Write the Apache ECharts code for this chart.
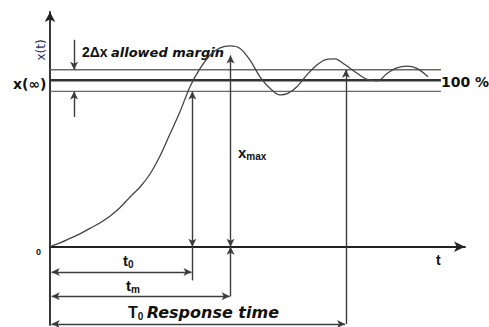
<!DOCTYPE html>
<html><head><meta charset="utf-8">
<script src="https://cdn.jsdelivr.net/npm/echarts@6/dist/echarts.min.js"></script>
<style>html,body{margin:0;padding:0;background:#fff}#c{width:489px;height:327px}</style>
</head><body><div id="c"></div>
<script>
// step response curve (time in arbitrary units, response in % of final value)
const curveTime  = [0, 2.4, 4.8, 7.2, 9.6, 12.0, 14.5, 16.9, 19.3, 21.7, 24.1, 26.5, 28.9, 31.3, 33.7, 36.1, 38.6, 41.0, 43.4, 45.8, 48.2, 50.6, 53.0, 55.4, 57.3, 59.5, 61.9, 64.3, 66.7, 68.7, 70.6, 74.0, 76.4, 79.0, 81.2, 83.6, 86.0, 88.4, 91.1];
const curveValue = [0, 2.3, 5.0, 7.7, 11.0, 14.3, 18.5, 23.6, 29.9, 35.9, 43.7, 54.5, 67.7, 80.9, 96.0, 106.8, 115.2, 119.4, 120.6, 119.1, 112.1, 102.1, 95.2, 91.2, 92.1, 96.1, 103.2, 109.2, 112.6, 112.8, 110.2, 104.2, 100.5, 99.7, 104.1, 107.5, 108.5, 107.1, 102.1];
// tolerance band: upper margin, final value, lower margin
const bandLevels = [106.3, 100, 93.3];
const bandEnd = 94.2;
// characteristic times: t0, tm, T0
const markTimes = [34.3, 43.5, 71.3];
const xMaxLevel = 114.9;
// dimension-arrow levels below the time axis (t0, tm, T0)
const dimLevels = [-15.2, -29.8, -46.4];
const dimExt = [-20.2, -29.8, -46.4];
// 2Δx margin arrow position and outer ends
const marginTime = 5.8;
const marginEnds = [124.3, 78];

const chart = echarts.init(document.getElementById('c'), null, {renderer: 'svg'});
const lineC = '#3c3c3c';
const A = 'arrow', N = 'none';
function seg(p1, p2, s1, s2) {
  return [{coord: p1, symbol: s1}, {coord: p2, symbol: s2}];
}
const [t0, tm, T0] = markTimes;
const marks = [
  seg([marginTime, marginEnds[0]], [marginTime, bandLevels[0]], N, A),
  seg([marginTime, marginEnds[1]], [marginTime, bandLevels[2]], N, A),
  seg([t0, bandLevels[2]], [t0, 0], A, A),
  seg([t0, 0], [t0, dimExt[0]], N, N),
  seg([tm, xMaxLevel], [tm, 0], A, A),
  seg([tm, 0], [tm, dimExt[1]], A, N),
  seg([T0, bandLevels[0]], [T0, dimExt[2]], A, N),
  seg([0.4, dimLevels[0]], [t0 - 0.2, dimLevels[0]], A, A),
  seg([0.4, dimLevels[1]], [tm - 0.2, dimLevels[1]], A, A),
  seg([0.4, dimLevels[2]], [T0 - 0.2, dimLevels[2]], A, A)
];
const bandSeries = bandLevels.map((v, i) => ({
  type: 'line', data: [[0, v], [bandEnd, v]], showSymbol: false, silent: true,
  lineStyle: {color: i === 1 ? '#333' : '#6a6a6a', width: i === 1 ? 2.4 : 1.4}
}));
const B = '"DejaVu Sans"';
const txt = (x, y, text, font, extra) => Object.assign({type: 'text', x, y}, {style: Object.assign({text, font, fill: '#111', verticalAlign: 'middle'}, extra || {})});
const sub = (x, y, main, s, fm, fs, pad) => ({type: 'text', x, y, style: {text: '{a|' + main + '}{s|' + s + '}', verticalAlign: 'middle', rich: {
  a: {font: fm, fill: '#111'}, s: {font: fs, fill: '#111', padding: [pad, 0, 0, 0]}}}});
const yTitle = txt(41, 50, 'x(t)', '12px ' + B, {fill: '#1f2f60', align: 'center'});
yTitle.rotation = Math.PI / 2;
chart.setOption({
  animation: false,
  grid: {left: 50, right: 24, top: 12, bottom: 2},
  xAxis: {type: 'value', min: 0, max: 100,
    axisLine: {show: true, onZero: true, symbol: ['none', 'arrow'], symbolSize: [8, 11], lineStyle: {color: '#222', width: 1.8}},
    axisTick: {show: false}, axisLabel: {show: false}, splitLine: {show: false}},
  yAxis: {type: 'value', min: -47, max: 141,
    axisLine: {show: true, symbol: ['none', 'arrow'], symbolSize: [8, 10], lineStyle: {color: '#222', width: 1.8}},
    axisTick: {show: false}, axisLabel: {show: false}, splitLine: {show: false}},
  series: bandSeries.concat([{
    type: 'line', data: curveTime.map((t, i) => [t, curveValue[i]]), smooth: 0.3, showSymbol: false, silent: true,
    lineStyle: {color: '#444', width: 1.3},
    markLine: {silent: true, symbolSize: [6, 8], label: {show: false}, lineStyle: {color: lineC, type: 'solid', width: 1.4}, data: marks}
  }]),
  graphic: [
    yTitle,
    txt(13, 84, 'x(∞)', 'bold 14px ' + B),
    {type: 'text', x: 82, y: 52, style: {text: '{a|2Δx} {b|allowed margin}', verticalAlign: 'middle', rich: {
      a: {font: 'bold 14px "Liberation Sans"', fill: '#111'},
      b: {font: 'italic bold 13px ' + B, fill: '#111'}}}},
    txt(441, 82, '100 %', 'bold 14px ' + B),
    sub(238, 152, 'x', 'max', 'bold 15px "Liberation Sans"', 'bold 10px "Liberation Sans"', 9),
    txt(36, 252, '0', 'bold 9px "Liberation Sans"'),
    txt(436, 260, 't', 'bold 14px "Liberation Sans"'),
    sub(123, 260, 't', '0', 'bold 15px "Liberation Sans"', 'bold 10px "Liberation Sans"', 8),
    sub(126, 285, 't', 'm', 'bold 15px "Liberation Sans"', 'bold 10px "Liberation Sans"', 8),
    {type: 'text', x: 128, y: 312, style: {text: '{a|T}{s|0} {b|Response time}', verticalAlign: 'middle', rich: {
      a: {font: 'bold 16px "Liberation Sans"', fill: '#111'},
      s: {font: 'bold 10px "Liberation Sans"', fill: '#111', padding: [8, 0, 0, 0]},
      b: {font: 'italic bold 16px ' + B, fill: '#111'}}}}
  ]
});
</script></body></html>
